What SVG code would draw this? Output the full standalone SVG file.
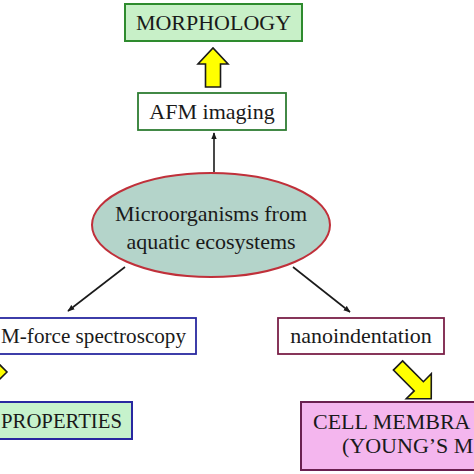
<svg xmlns="http://www.w3.org/2000/svg" width="474" height="474" viewBox="0 0 474 474">
<defs>
<style>
text{font-family:"Liberation Serif","Times New Roman",serif;font-size:22px;fill:#1a1a1a}
.c{text-anchor:middle}
.conn line{stroke:#1a1a1a;stroke-width:1.6;fill:none}
.yarrow{fill:#ffff00;stroke:#1a1a1a;stroke-width:1.6;stroke-linejoin:miter}
</style>
<marker id="ah" viewBox="0 0 10 10" refX="9" refY="5" markerWidth="7" markerHeight="7" markerUnits="userSpaceOnUse" orient="auto">
<path d="M0,1 L10,5 L0,9 Z" fill="#1a1a1a"/>
</marker>
<path id="diagArrow" d="M0,-6.5 L29.4,-6.5 L29.4,-17.7 L47,0 L29.4,17.7 L29.4,6.5 L0,6.5 Z"/>
</defs>
<rect width="474" height="474" fill="#ffffff"/>

<g id="morphology">
<rect x="125" y="4" width="177" height="37" fill="#c8f0c8" stroke="#2e8b2e" stroke-width="2"/>
<text x="213.5" y="30" class="c">MORPHOLOGY</text>
</g>

<g id="afm-imaging">
<rect x="138" y="93" width="148" height="37" fill="#ffffff" stroke="#2e7d32" stroke-width="1.8"/>
<text x="212" y="119" class="c">AFM imaging</text>
</g>

<g id="microorganisms">
<ellipse cx="211" cy="225" rx="119" ry="52" fill="#b4d4ca" stroke="#c0303a" stroke-width="2"/>
<text x="211" y="221" class="c">Microorganisms from</text>
<text x="211" y="249" class="c">aquatic ecosystems</text>
</g>

<g id="force-spectroscopy">
<rect x="-10" y="318" width="206" height="36" fill="#ffffff" stroke="#2828a0" stroke-width="1.8"/>
<text x="1" y="343" textLength="185" lengthAdjust="spacingAndGlyphs">M-force spectroscopy</text>
</g>

<g id="nanoindentation">
<rect x="278" y="318" width="166" height="36" fill="#ffffff" stroke="#7a2048" stroke-width="1.8"/>
<text x="361" y="343" class="c">nanoindentation</text>
</g>

<g id="properties">
<rect x="-10" y="402" width="142" height="37" fill="#c6f2cc" stroke="#2828a0" stroke-width="2"/>
<text x="1" y="428" textLength="121" lengthAdjust="spacingAndGlyphs">PROPERTIES</text>
</g>

<g id="cell-membrane">
<rect x="301" y="402" width="190" height="68" fill="#f4b6ee" stroke="#6a2050" stroke-width="2"/>
<text x="313" y="429">CELL MEMBRA</text>
<text x="342" y="453">(YOUNG’S M</text>
</g>

<g id="connectors">
<g class="conn">
<line x1="214" y1="172" x2="214" y2="133" marker-end="url(#ah)"/>
<line x1="125" y1="267" x2="68" y2="311" marker-end="url(#ah)"/>
<line x1="293" y1="267" x2="350" y2="312" marker-end="url(#ah)"/>
</g>
<path class="yarrow" d="M205.5,87 L220.5,87 L220.5,64 L228,64 L213,48 L198,64 L205.5,64 Z"/>
<use href="#diagArrow" class="yarrow" transform="translate(398,365.5) rotate(45)"/>
<use href="#diagArrow" class="yarrow" transform="translate(2.4,367.4) rotate(135)"/>
</g>
</svg>
